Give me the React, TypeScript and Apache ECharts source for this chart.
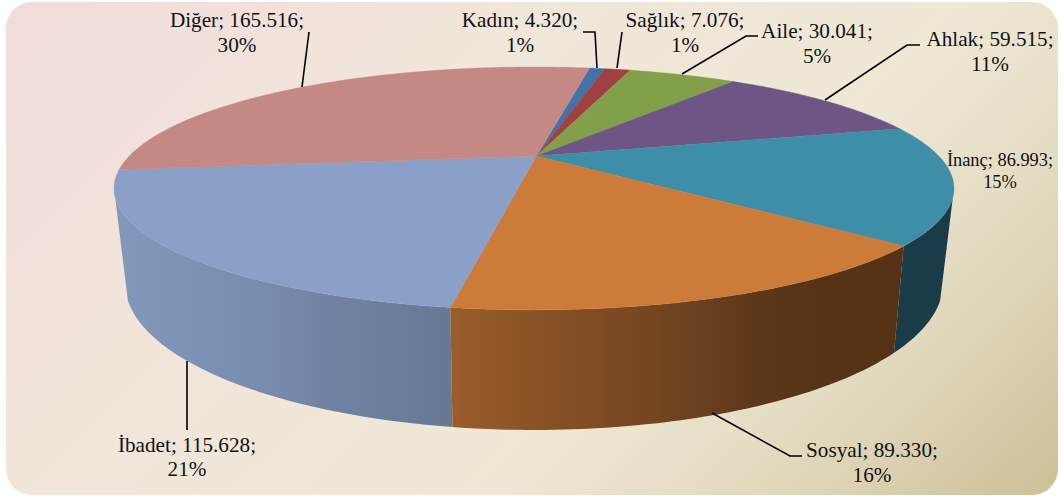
import React, { useEffect, useRef } from "react";
import * as echarts from "echarts";

const categories = ["Kadın", "Sağlık", "Aile", "Ahlak", "İnanç", "Sosyal", "İbadet", "Diğer"];
const seriesValues = [4320, 7076, 30041, 59515, 86993, 89330, 115628, 165516];
const percentLabels = [1, 1, 5, 11, 15, 16, 21, 30];

const topColors = ["#4372a8", "#a04040", "#82a04a", "#6d5586", "#3f8ea8", "#cc7c38", "#8ba0c8", "#c48885"];
const wallColorStops: (string[])[] = [
  ["#4372a8", "#4372a8"],
  ["#a04040", "#a04040"],
  ["#82a04a", "#82a04a"],
  ["#6d5586", "#6d5586"],
  ["#193c48", "#193c48"],
  ["#9a5d2b", "#854f24", "#6f4320", "#573318", "#553116"],
  ["#8299bc", "#7a90b3", "#6f82a3", "#677894"],
  ["#c48885", "#c48885"],
];

// label centres and leader lines (layout only)
const labelLayout = [
  { x: 520, y: 32, size: 21.2, lh: 25, line: [[583, 32], [595, 32], [597, 68]] },
  { x: 685, y: 32, size: 21.2, lh: 25, line: [[622, 32], [617, 68]] },
  { x: 817, y: 43, size: 21.2, lh: 25, line: [[758, 36], [746, 36], [682, 74]] },
  { x: 990, y: 51, size: 21.2, lh: 25, line: [[920, 45], [907, 45], [825, 100]] },
  { x: 1000, y: 171, size: 18.4, lh: 22, line: null },
  { x: 872, y: 462, size: 21.2, lh: 25, line: [[802, 456], [790, 456], [712, 413]] },
  { x: 187, y: 456.5, size: 21.2, lh: 24, line: [[187, 361], [187, 430]] },
  { x: 237, y: 32, size: 21.2, lh: 25, line: [[309, 32], [302, 87]] },
];

// projection of the tilted disc
const CX = 534, APEX_X = 536.5, CY = 156, A = 404.7, B = 112.8, P = 0.267, K = 0.974, H = 88;
const START_DEG = 10;

const total = seriesValues.reduce((a, b) => a + b, 0);
const spans = (() => {
  let acc = START_DEG;
  return seriesValues.map((v) => {
    const s = acc;
    acc += (v / total) * 360;
    return [s, acc];
  });
})();

function project(deg: number, bottom: boolean): number[] {
  const t = (deg * Math.PI) / 180;
  const u = Math.sin(t), v = -Math.cos(t), w = 1 - P * v;
  const k = bottom ? K : 1;
  return [CX + (k * A * u) / w, CY + (B * v + (bottom ? H : 0)) / w];
}

function arcPts(a: number, b: number, bottom: boolean): number[][] {
  const n = Math.max(2, Math.ceil(Math.abs(b - a)));
  const out: number[][] = [];
  for (let i = 0; i <= n; i++) out.push(project(a + ((b - a) * i) / n, bottom));
  return out;
}

const fmt = (v: number) => String(v).replace(/\B(?=(\d{3})+$)/g, ".");

const TOP_FROM = 180 - (Math.acos(P) * 180) / Math.PI;
const TOP_TO = 360 - TOP_FROM;
const BOTTOM_FROM = 112;
const BOTTOM_TO = 248;

export default function App() {
  const ref = useRef<HTMLDivElement>(null);
  useEffect(() => {
    const chart = echarts.init(ref.current!, null, { renderer: "svg" });
    const data = seriesValues.map((v, i) => ({ name: categories[i], value: v }));
    const wallOrder = spans
      .map((s, i) => ({ i, d: Math.abs((s[0] + s[1]) / 2 - 180) }))
      .sort((a, b) => b.d - a.d)
      .map((o) => o.i);
    chart.setOption({
      animation: false,
      graphic: [
        {
          type: "rect",
          z: -10,
          silent: true,
          shape: { x: 6, y: 2, width: 1052, height: 493, r: 26 },
          style: {
            fill: new echarts.graphic.LinearGradient(6, 2, 778.5, 774.5, [
              { offset: 0, color: "#f2dcdb" },
              { offset: 0.33, color: "#f1e6da" },
              { offset: 0.62, color: "#efe8d5" },
              { offset: 0.8, color: "#e2dabf" },
              { offset: 1, color: "#cdbf97" },
            ], true),
          },
        },
        ...labelLayout.flatMap((l, i) => {
          const items: any[] = [
            {
              type: "text",
              z: 50,
              x: l.x,
              y: l.y,
              style: {
                text: `${categories[i]}; ${fmt(seriesValues[i])};\n${percentLabels[i]}%`,
                font: `${l.size}px "Liberation Serif"`,
                lineHeight: l.lh,
                fill: "#111111",
                align: "center",
                verticalAlign: "middle",
              },
            },
          ];
          if (l.line) {
            items.push({
              type: "polyline",
              z: 40,
              shape: { points: l.line },
              style: { stroke: "#000000", lineWidth: 1.6, fill: "none" },
            });
          }
          return items;
        }),
      ],
      series: [
        {
          type: "custom",
          coordinateSystem: "none",
          silent: true,
          z: 2,
          data,
          renderItem: (params: any) => {
            const idx = wallOrder[params.dataIndex];
            const a = Math.max(spans[idx][0], TOP_FROM);
            const b = Math.min(spans[idx][1], TOP_TO);
            if (b <= a) return { type: "group", children: [] };
            const a2 = Math.max(spans[idx][0], BOTTOM_FROM);
            const b2 = Math.min(spans[idx][1], BOTTOM_TO);
            const pts = [...arcPts(a, b, false), ...arcPts(b2, a2, true)];
            const stops = wallColorStops[idx];
            return {
              type: "polygon",
              shape: { points: pts },
              style: {
                fill: new echarts.graphic.LinearGradient(
                  0, 0, 1, 0,
                  stops.map((c, j) => ({ offset: j / (stops.length - 1), color: c }))
                ),
              },
            };
          },
        },
        {
          type: "custom",
          coordinateSystem: "none",
          silent: true,
          z: 3,
          data,
          renderItem: (params: any) => {
            const i = params.dataIndex;
            const pts = [[APEX_X, CY], ...arcPts(spans[i][0], spans[i][1], false)];
            return {
              type: "polygon",
              shape: { points: pts },
              style: { fill: topColors[i], stroke: topColors[i], lineWidth: 0.4 },
            };
          },
        },
      ],
    });
    return () => chart.dispose();
  }, []);
  return <div ref={ref} style={{ position: "fixed", left: 0, top: 0, width: 1061, height: 499, background: "#ffffff" }} />;
}
